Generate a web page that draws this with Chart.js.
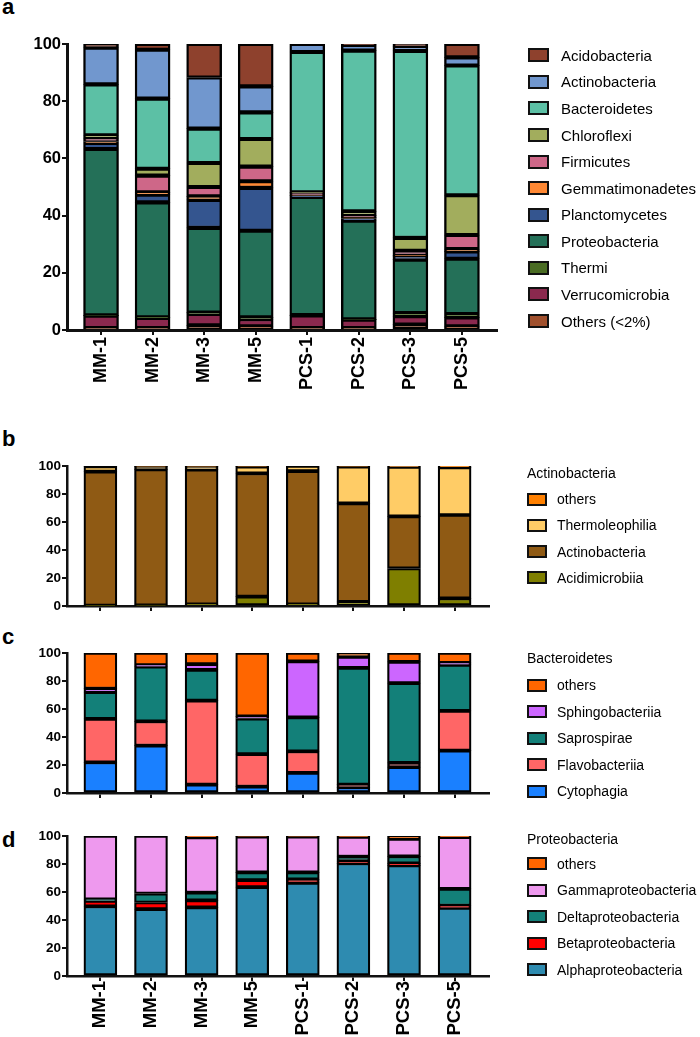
<!DOCTYPE html>
<html>
<head>
<meta charset="utf-8">
<script src="https://cdn.jsdelivr.net/npm/chart.js@4.4.1/dist/chart.umd.min.js"></script>
<style>
  body { margin: 0; width: 700px; height: 1037px; background: #fff; position: relative; overflow: hidden;
         font-family: 'Liberation Sans', Arial, Helvetica, sans-serif; color: #000; }
  canvas { position: absolute; left: 0; }
  .letter { position: absolute; left: 2px; font-weight: bold; font-size: 22px; line-height: 1; }
  .legend { position: absolute; left: 0; top: 0; }
  .legend div { position: absolute; white-space: nowrap; line-height: 1; }
  .legend .box { border: 2px solid #111; box-sizing: border-box; }
</style>
</head>
<body>
<div class="letter" style="top:-4px">a</div>
<div class="letter" style="top:428px">b</div>
<div class="letter" style="top:626px">c</div>
<div class="letter" style="top:829px">d</div>

<canvas id="chartA" width="700" height="370" style="top:30px"></canvas>
<canvas id="chartB" width="700" height="165" style="top:455px"></canvas>
<canvas id="chartC" width="700" height="165" style="top:640px"></canvas>
<canvas id="chartD" width="700" height="215" style="top:822px"></canvas>

<script>
const FONT = "'Liberation Sans', Arial, Helvetica, sans-serif";

const samples = ['MM-1', 'MM-2', 'MM-3', 'MM-5', 'PCS-1', 'PCS-2', 'PCS-3', 'PCS-5'];

// panel a - phyla, listed bottom of the stack first
const phylaNames = ['Others (<2%)', 'Verrucomicrobia', 'Thermi', 'Proteobacteria', 'Planctomycetes',
  'Gemmatimonadetes', 'Firmicutes', 'Chloroflexi', 'Bacteroidetes', 'Actinobacteria', 'Acidobacteria'];
const othersA   = [0.7, 0.7, 1.6, 1.3, 0.7, 0.7, 1.9, 1.3];
const verruco   = [4.3, 3.5, 4.0, 2.5, 4.4, 2.9, 2.9, 3.1];
const thermi    = [0.1, 0.2, 0.5, 0.6, 0.1, 0.1, 1.1, 1.2];
const proteo    = [58.2, 40.2, 29.6, 30.3, 41.3, 34.5, 18.7, 19.3];
const plancto   = [2.1, 2.7, 9.8, 15.0, 0.5, 0.8, 1.2, 2.6];
const gemma     = [0.5, 0.8, 1.2, 2.3, 0.2, 0.3, 0.3, 0.8];
const firmic    = [1.2, 5.9, 3.3, 5.1, 0.6, 0.8, 1.6, 4.9];
const chloro    = [1.0, 2.4, 8.4, 9.7, 0.3, 1.4, 4.5, 13.9];
const bactero   = [17.8, 24.5, 12.0, 9.3, 49.1, 56.2, 65.4, 45.4];
const actino    = [12.8, 17.1, 17.9, 9.1, 2.8, 2.0, 1.6, 2.8];
const acido     = [1.3, 2.0, 11.7, 14.8, 0, 0.3, 0.8, 4.7];

// panel b - Actinobacteria classes
const actNames = ['Acidimicrobiia', 'Actinobacteria', 'Thermoleophilia', 'others'];
const acidimicrobiia  = [0.3, 0.5, 1.2, 6.7, 1.2, 3.0, 26.8, 5.5];
const actinobacteria  = [95.7, 97.1, 96.2, 88.1, 95.2, 70.3, 37.2, 59.5];
const thermoleophilia = [3.7, 1.9, 2.1, 4.7, 3.6, 26.2, 35.3, 34.0];
const othersB         = [0.3, 0.5, 0.5, 0.5, 0, 0.5, 0.7, 1.0];

// panel c - Bacteroidetes classes
const bacNames = ['Cytophagia', 'Flavobacteriia', 'Saprospirae', 'Sphingobacteriia', 'others'];
const cytophagia       = [21.9, 33.8, 6.0, 4.5, 14.3, 4.0, 18.5, 30.3];
const flavobacteriia   = [31.0, 17.4, 60.0, 23.3, 15.5, 2.0, 3.0, 28.4];
const saprospirae      = [19.2, 39.0, 21.9, 25.4, 24.2, 83.3, 57.0, 32.8];
const sphingobacteriia = [2.4, 1.2, 4.2, 1.5, 40.0, 8.0, 15.2, 1.5];
const othersC          = [25.5, 8.6, 7.9, 45.3, 6.0, 2.7, 6.3, 7.0];

// panel d - Proteobacteria classes
const proNames = ['Alphaproteobacteria', 'Betaproteobacteria', 'Deltaproteobacteria', 'Gammaproteobacteria', 'others'];
const alpha   = [49.8, 47.7, 49.0, 63.5, 66.5, 80.5, 79.0, 48.6];
const beta    = [3.8, 4.8, 5.0, 5.0, 2.5, 1.5, 1.5, 1.6];
const delta   = [1.2, 6.4, 5.5, 5.5, 5.0, 3.2, 5.0, 12.0];
const gamma   = [45.2, 41.1, 39.5, 25.5, 25.5, 14.2, 12.5, 37.0];
const othersD = [0, 0, 1.0, 0.5, 0.5, 0.6, 2.0, 0.8];

const yTicks = [0, 20, 40, 60, 80, 100];

function stackedChart(id, series, names, colors, o) {
  const ctx = document.getElementById(id).getContext('2d');
  return new Chart(ctx, {
    type: 'bar',
    data: {
      datasets: series.map((vals, k) => ({
        label: names[k],
        data: vals.map((v, i) => ({ x: i, y: v })),
        backgroundColor: colors[k],
        borderColor: '#000',
        borderWidth: o.border,
        borderSkipped: false,
        barThickness: o.barW
      }))
    },
    options: {
      responsive: false,
      animation: false,
      layout: { padding: { left: 0, right: o.padRight, top: o.padTop, bottom: 0 } },
      plugins: { legend: { display: false }, tooltip: { enabled: false } },
      scales: {
        x: {
          type: 'linear',
          stacked: true,
          offset: false,
          min: -0.66,
          max: 7.68,
          afterBuildTicks: s => { s.ticks = samples.map((_, i) => ({ value: i })); },
          afterFit: s => { s.height = o.xHeight; },
          ticks: {
            display: o.showLabels,
            autoSkip: false,
            minRotation: 90,
            maxRotation: 90,
            padding: o.xPad,
            color: '#000',
            font: { family: FONT, size: o.xFont, weight: 'bold' },
            callback: v => samples[v]
          },
          grid: { offset: false, drawOnChartArea: false, drawTicks: true, tickLength: 5, color: '#111', lineWidth: 2 },
          border: { display: true, color: '#111', width: o.axisW }
        },
        y: {
          stacked: true,
          min: 0,
          max: 100,
          afterBuildTicks: s => { s.ticks = yTicks.map(v => ({ value: v })); },
          afterFit: s => { s.width = 67; },
          ticks: {
            padding: 1,
            color: '#000',
            font: { family: FONT, size: o.yFont, weight: 'bold' }
          },
          grid: { drawOnChartArea: false, drawTicks: true, tickLength: 5, color: '#111', lineWidth: 2 },
          border: { display: true, color: '#111', width: o.axisW }
        }
      }
    }
  });
}

// legend built from the chart's own datasets, top entry = top of the stack
function htmlLegend(chart, o) {
  const wrap = document.createElement('div');
  wrap.className = 'legend';
  wrap.style.fontSize = o.font + 'px';
  if (o.title) {
    const t = document.createElement('div');
    t.textContent = o.title;
    t.style.left = o.x + 'px';
    t.style.top = (o.titleY - o.font / 2) + 'px';
    wrap.appendChild(t);
  }
  const sets = chart.data.datasets.slice().reverse();
  sets.forEach((ds, i) => {
    const cy = o.y0 + i * o.step;
    const box = document.createElement('div');
    box.className = 'box';
    box.style.left = o.x + 'px';
    box.style.top = (cy - o.bh / 2) + 'px';
    box.style.width = o.bw + 'px';
    box.style.height = o.bh + 'px';
    box.style.background = ds.backgroundColor;
    wrap.appendChild(box);
    const txt = document.createElement('div');
    txt.textContent = ds.label;
    txt.style.left = o.textX + 'px';
    txt.style.top = (cy - o.font / 2) + 'px';
    wrap.appendChild(txt);
  });
  document.body.appendChild(wrap);
}

const chartA = stackedChart('chartA',
  [othersA, verruco, thermi, proteo, plancto, gemma, firmic, chloro, bactero, actino, acido],
  phylaNames,
  ['#A0502D', '#8B294E', '#4A6C23', '#247058', '#34558F', '#FF8833', '#CE6788', '#A2AD5D', '#5CC0A5', '#7197CE', '#8E412D'],
  { border: 2.4, barW: 35, padRight: 203, padTop: 14, xHeight: 70, showLabels: true, xFont: 18, xPad: 2, yFont: 16.5, axisW: 3 });

const chartB = stackedChart('chartB',
  [acidimicrobiia, actinobacteria, thermoleophilia, othersB],
  actNames,
  ['#7F7F00', '#8F5A14', '#FFCC66', '#FF8000'],
  { border: 2.2, barW: 33, padRight: 211, padTop: 11, xHeight: 14, showLabels: false, xFont: 18, xPad: 1, yFont: 13.5, axisW: 2.5 });

const chartC = stackedChart('chartC',
  [cytophagia, flavobacteriia, saprospirae, sphingobacteriia, othersC],
  bacNames,
  ['#1A80FF', '#FF6666', '#138079', '#CC66FF', '#FF6600'],
  { border: 2.2, barW: 33, padRight: 211, padTop: 13, xHeight: 12, showLabels: false, xFont: 18, xPad: 1, yFont: 13.5, axisW: 2.5 });

const chartD = stackedChart('chartD',
  [alpha, beta, delta, gamma, othersD],
  proNames,
  ['#2E8BB0', '#FF0000', '#138079', '#EE99EE', '#FF6600'],
  { border: 2.2, barW: 33, padRight: 211, padTop: 14, xHeight: 61, showLabels: true, xFont: 18.5, xPad: 0, yFont: 13.5, axisW: 2.5 });

htmlLegend(chartA, { x: 528, textX: 561, y0: 55.3, step: 26.57, bw: 21, bh: 14, font: 15 });
htmlLegend(chartB, { title: 'Actinobacteria', titleY: 473, x: 527, textX: 557, y0: 499, step: 26.3, bw: 20, bh: 13, font: 14 });
htmlLegend(chartC, { title: 'Bacteroidetes', titleY: 658, x: 527, textX: 557, y0: 685, step: 26.5, bw: 20, bh: 13, font: 14 });
htmlLegend(chartD, { title: 'Proteobacteria', titleY: 839, x: 527, textX: 557, y0: 863.5, step: 26.5, bw: 20, bh: 13, font: 14 });
</script>
</body>
</html>
